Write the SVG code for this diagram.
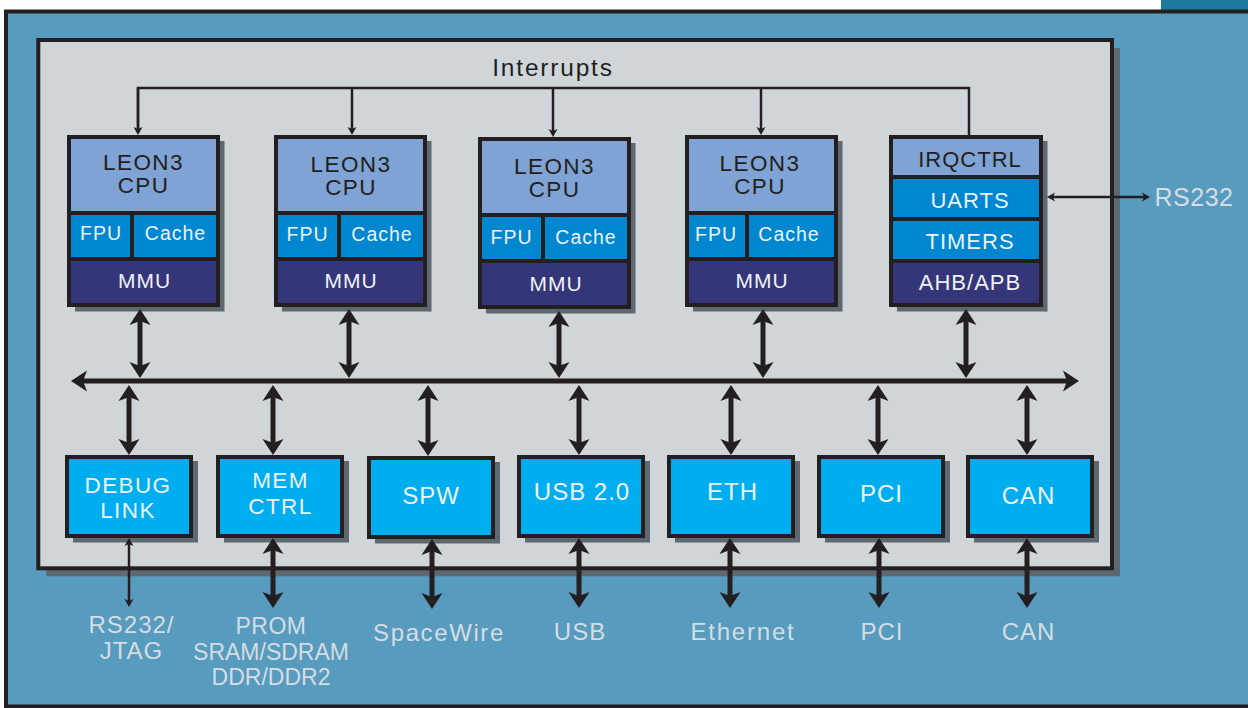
<svg xmlns="http://www.w3.org/2000/svg" width="1248" height="708" viewBox="0 0 1248 708">
<style>
text{font-family:"Liberation Sans",Arial,sans-serif;text-anchor:middle;letter-spacing:1px}
.dk{fill:#231f20}
.lt{fill:#eef2f6}
.lbl{fill:#d6dde2;font-size:24px}
.shd{fill:#5e696f}
.blk{fill:#231f20}
.lb{fill:#7ea3d4}
.mb{fill:#0087cf}
.nv{fill:#343679}
.pf{fill:#00aeef;stroke:#231f20;stroke-width:4}
.f235{font-size:22.5px;letter-spacing:1.4px}
.f19{font-size:19.5px}
.f21{font-size:21px}
.f22{font-size:22px}
.f24{font-size:24px}
.thick{stroke:#231f20;stroke-width:5;fill:none}
.thin{stroke:#231f20;stroke-width:2.5;fill:none}
.big{marker-start:url(#ah);marker-end:url(#ah)}
</style>
<defs>
<marker id="ah" markerUnits="userSpaceOnUse" orient="auto-start-reverse" refX="-8" refY="0" viewBox="-17 -12 20 24" markerWidth="20" markerHeight="24" overflow="visible">
<path d="M0,0 L-16,-10.5 L-12,0 L-16,10.5 Z" fill="#231f20"/>
</marker>
<marker id="sa" markerUnits="userSpaceOnUse" orient="auto-start-reverse" refX="-4" refY="0" viewBox="-9 -6 10 12" markerWidth="10" markerHeight="12" overflow="visible">
<path d="M0,0 L-8,-4.5 L-6,0 L-8,4.5 Z" fill="#231f20"/>
</marker>
</defs>

<g id="background">
<rect x="0" y="0" width="1248" height="708" fill="#ffffff"/>
<rect x="1161" y="0" width="87" height="10" fill="#1e7a9c"/>
<rect x="6" y="11.5" width="1300" height="695" fill="#579bbf" stroke="#231f20" stroke-width="4"/>
</g>

<g id="panel">
<rect x="46.3" y="48" width="1073.7" height="528.3" class="shd"/>
<rect x="38.3" y="40" width="1073.7" height="528.3" fill="#d0d5d9" stroke="#231f20" stroke-width="4"/>
<text class="dk" x="553" y="76" font-size="24.5" style="letter-spacing:1.8px">Interrupts</text>
</g>

<g id="cpu1">
<rect class="shd" x="75" y="141" width="149.5" height="170.5"/>
<rect class="blk" x="67" y="135" width="153" height="172"/>
<rect class="lb" x="71" y="139" width="145" height="72"/>
<rect class="mb" x="71" y="215" width="59" height="42"/>
<rect class="mb" x="134" y="215" width="82" height="42"/>
<rect class="nv" x="71" y="261" width="145" height="42"/>
<text class="dk f235" x="143.5" y="170">LEON3</text>
<text class="dk f235" x="143.5" y="193">CPU</text>
<text class="lt f19" x="101" y="240">FPU</text>
<text class="lt f19" x="175.5" y="240">Cache</text>
<text class="lt f21" x="144.5" y="288">MMU</text>
</g>

<g id="cpu2">
<rect class="shd" x="282" y="141" width="149.5" height="170.5"/>
<rect class="blk" x="274" y="135" width="153" height="172"/>
<rect class="lb" x="278" y="139" width="145" height="72"/>
<rect class="mb" x="278" y="215" width="59" height="42"/>
<rect class="mb" x="341" y="215" width="82" height="42"/>
<rect class="nv" x="278" y="261" width="145" height="42"/>
<text class="dk f235" x="351" y="172">LEON3</text>
<text class="dk f235" x="351" y="195">CPU</text>
<text class="lt f19" x="307.5" y="241">FPU</text>
<text class="lt f19" x="382" y="241">Cache</text>
<text class="lt f21" x="351" y="288">MMU</text>
</g>

<g id="cpu3">
<rect class="shd" x="486" y="143" width="149.5" height="170.5"/>
<rect class="blk" x="478" y="137" width="153" height="172"/>
<rect class="lb" x="482" y="141" width="145" height="72"/>
<rect class="mb" x="482" y="217" width="59" height="42"/>
<rect class="mb" x="545" y="217" width="82" height="42"/>
<rect class="nv" x="482" y="263" width="145" height="42"/>
<text class="dk f235" x="554.5" y="174">LEON3</text>
<text class="dk f235" x="554.5" y="197">CPU</text>
<text class="lt f19" x="511.5" y="244">FPU</text>
<text class="lt f19" x="586" y="244">Cache</text>
<text class="lt f21" x="556" y="291">MMU</text>
</g>

<g id="cpu4">
<rect class="shd" x="693" y="141" width="149.5" height="170.5"/>
<rect class="blk" x="685" y="135" width="153" height="172"/>
<rect class="lb" x="689" y="139" width="145" height="72"/>
<rect class="mb" x="689" y="215" width="56" height="42"/>
<rect class="mb" x="749" y="215" width="85" height="42"/>
<rect class="nv" x="689" y="261" width="145" height="42"/>
<text class="dk f235" x="760" y="171">LEON3</text>
<text class="dk f235" x="760" y="194">CPU</text>
<text class="lt f19" x="716" y="241">FPU</text>
<text class="lt f19" x="789" y="241">Cache</text>
<text class="lt f21" x="762" y="288">MMU</text>
</g>

<g id="irqctrl">
<rect class="shd" x="897" y="141" width="150.5" height="170.5"/>
<rect class="blk" x="889" y="135" width="154" height="172"/>
<rect class="lb" x="893" y="139" width="146" height="36"/>
<rect class="mb" x="893" y="179" width="146" height="38"/>
<rect class="mb" x="893" y="221" width="146" height="38"/>
<rect class="nv" x="893" y="263" width="146" height="40"/>
<text class="dk f22" x="970" y="166.5">IRQCTRL</text>
<text class="lt f22" x="970" y="208">UARTS</text>
<text class="lt f22" x="970" y="249">TIMERS</text>
<text class="lt f22" x="970" y="290">AHB/APB</text>
</g>

<g id="debug">
<rect class="shd" x="73" y="461" width="125" height="81.5"/>
<rect class="pf" x="67" y="457" width="124" height="79"/>
<text class="lt f235" x="128" y="492.5">DEBUG</text>
<text class="lt f235" x="128" y="517.5">LINK</text>
</g>
<g id="memctrl">
<rect class="shd" x="224" y="461" width="125" height="81.5"/>
<rect class="pf" x="218" y="457" width="124" height="79"/>
<text class="lt f235" x="280.5" y="488">MEM</text>
<text class="lt f235" x="280.5" y="514">CTRL</text>
</g>
<g id="spw">
<rect class="shd" x="375" y="462" width="125" height="81.5"/>
<rect class="pf" x="369" y="458" width="124" height="79"/>
<text class="lt f24" x="431" y="504">SPW</text>
</g>
<g id="usb">
<rect class="shd" x="525" y="461" width="125" height="81.5"/>
<rect class="pf" x="519" y="457" width="124" height="79"/>
<text class="lt f24" x="582" y="500">USB 2.0</text>
</g>
<g id="eth">
<rect class="shd" x="675" y="461" width="125" height="81.5"/>
<rect class="pf" x="669" y="457" width="124" height="79"/>
<text class="lt f24" x="732.5" y="500">ETH</text>
</g>
<g id="pci">
<rect class="shd" x="825" y="461" width="125" height="81.5"/>
<rect class="pf" x="819" y="457" width="124" height="79"/>
<text class="lt f24" x="881.5" y="502">PCI</text>
</g>
<g id="can">
<rect class="shd" x="974" y="461" width="125" height="81.5"/>
<rect class="pf" x="968" y="457" width="124" height="79"/>
<text class="lt f24" x="1028.5" y="504">CAN</text>
</g>

<g id="connectors">
<path class="thin" d="M138,131 V88 H969 V135"/>
<line class="thin" x1="352" y1="88" x2="352" y2="131" marker-end="url(#sa)"/>
<line class="thin" x1="553" y1="88" x2="553" y2="133" marker-end="url(#sa)"/>
<line class="thin" x1="761" y1="88" x2="761" y2="131" marker-end="url(#sa)"/>
<line class="thin" x1="138" y1="88" x2="138" y2="131" marker-end="url(#sa)"/>
<line class="thin" x1="1051" y1="197" x2="1146" y2="197" marker-start="url(#sa)" marker-end="url(#sa)"/>
<line class="thick big" x1="79" y1="381" x2="1071" y2="381"/>
<line class="thick big" x1="140" y1="317" x2="140" y2="370"/>
<line class="thick big" x1="349" y1="317" x2="349" y2="370"/>
<line class="thick big" x1="559" y1="319" x2="559" y2="370"/>
<line class="thick big" x1="763" y1="317" x2="763" y2="370"/>
<line class="thick big" x1="966" y1="317" x2="966" y2="370"/>
<line class="thick big" x1="129" y1="393" x2="129" y2="447"/>
<line class="thick big" x1="273" y1="393" x2="273" y2="447"/>
<line class="thick big" x1="428" y1="393" x2="428" y2="448"/>
<line class="thick big" x1="579" y1="393" x2="579" y2="447"/>
<line class="thick big" x1="731" y1="393" x2="731" y2="447"/>
<line class="thick big" x1="878" y1="393" x2="878" y2="447"/>
<line class="thick big" x1="1027" y1="393" x2="1027" y2="447"/>
<line class="thin" x1="129" y1="542" x2="129" y2="603" marker-start="url(#sa)" marker-end="url(#sa)"/>
<line class="thick big" x1="273" y1="546" x2="273" y2="600"/>
<line class="thick big" x1="432" y1="547" x2="432" y2="601"/>
<line class="thick big" x1="579" y1="546" x2="579" y2="600"/>
<line class="thick big" x1="730" y1="546" x2="730" y2="600"/>
<line class="thick big" x1="879" y1="546" x2="879" y2="600"/>
<line class="thick big" x1="1027" y1="546" x2="1027" y2="600"/>
</g>

<g id="labels">
<text class="lbl" x="1194" y="206" style="font-size:25px;letter-spacing:0.5px">RS232</text>
<text class="lbl" x="131.5" y="633">RS232/</text>
<text class="lbl" x="131.5" y="659">JTAG</text>
<text class="lbl" x="271" y="634" style="font-size:23px;letter-spacing:0.5px">PROM</text>
<text class="lbl" x="271" y="660" style="font-size:23px;letter-spacing:0">SRAM/SDRAM</text>
<text class="lbl" x="271" y="685" style="font-size:23px;letter-spacing:0">DDR/DDR2</text>
<text class="lbl" x="439" y="641" style="letter-spacing:1.6px">SpaceWire</text>
<text class="lbl" x="580" y="640">USB</text>
<text class="lbl" x="743" y="640" style="letter-spacing:1.8px">Ethernet</text>
<text class="lbl" x="882" y="640">PCI</text>
<text class="lbl" x="1028.5" y="640">CAN</text>
</g>
</svg>
